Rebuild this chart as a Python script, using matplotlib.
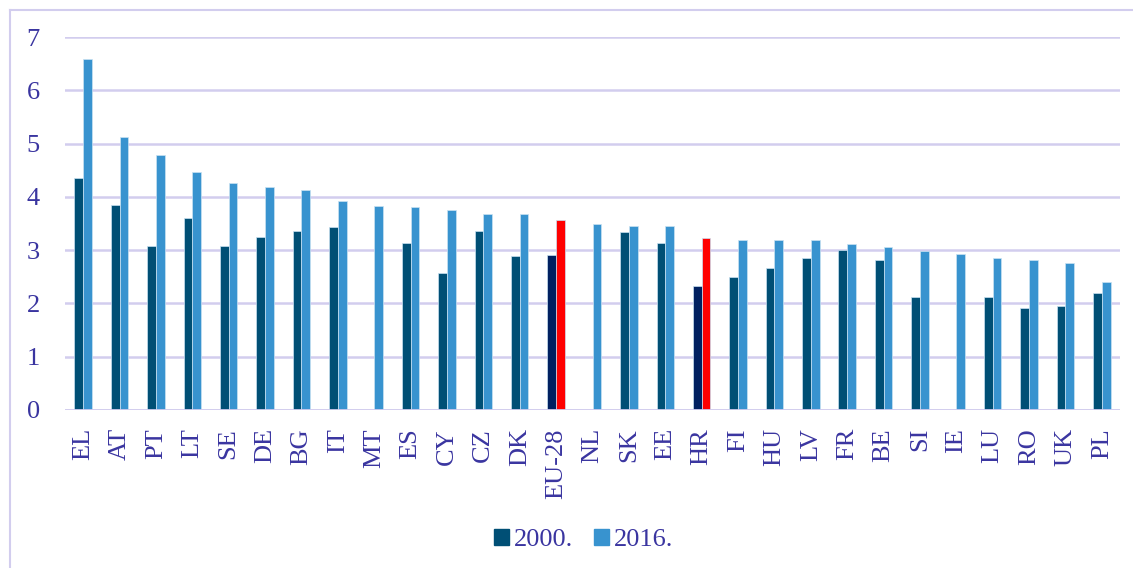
import numpy as np
import matplotlib.pyplot as plt
from matplotlib.lines import Line2D
from matplotlib.patches import Patch

countries = ['EL', 'AT', 'PT', 'LT', 'SE', 'DE', 'BG', 'IT', 'MT', 'ES', 'CY', 'CZ', 'DK',
             'EU-28', 'NL', 'SK', 'EE', 'HR', 'FI', 'HU', 'LV', 'FR', 'BE', 'SI', 'IE', 'LU',
             'RO', 'UK', 'PL']
y2000 = [4.36, 3.84, 3.07, 3.61, 3.07, 3.24, 3.36, 3.43, np.nan, 3.13, 2.58, 3.36, 2.89,
         2.90, np.nan, 3.34, 3.13, 2.33, 2.49, 2.67, 2.86, 3.00, 2.81, 2.13, np.nan, 2.13,
         1.91, 1.96, 2.20]
y2016 = [6.58, 5.12, 4.79, 4.46, 4.26, 4.18, 4.13, 3.93, 3.82, 3.81, 3.76, 3.68, 3.67,
         3.56, 3.49, 3.46, 3.45, 3.23, 3.19, 3.19, 3.19, 3.12, 3.05, 2.99, 2.93, 2.86,
         2.82, 2.76, 2.40]
highlight = ['EU-28', 'HR']

c2000 = '#004f75'
c2016 = '#3893cf'
c2000_hl = '#002060'
c2016_hl = '#ff0000'
text_c = '#3a35a0'
grid_c = '#d2cdee'

plt.rcParams['font.family'] = ['Liberation Serif', 'DejaVu Serif']

fig = plt.figure(figsize=(11.33, 5.68), dpi=100)
ax = fig.add_axes([65 / 1133, 1 - 410 / 568, 1055 / 1133, 373 / 568])

x = np.arange(len(countries))
w = 0.24
cols_a = [c2000_hl if c in highlight else c2000 for c in countries]
cols_b = [c2016_hl if c in highlight else c2016 for c in countries]
ax.bar(x - w / 2, np.nan_to_num(y2000), w, color=cols_a, edgecolor='#c9e2f2', linewidth=0.5, zorder=3)
ax.bar(x + w / 2, y2016, w, color=cols_b, edgecolor='#c9e2f2', linewidth=0.5, zorder=3)

ax.set_xlim(-0.5, len(countries) - 0.5)
ax.set_ylim(0, 7)
ax.set_yticks(range(8))
ax.yaxis.grid(True, color=grid_c, linewidth=1.8, zorder=0)
for s in ax.spines.values():
    s.set_visible(False)
ax.axhline(0, color=grid_c, linewidth=2, zorder=4)
ax.tick_params(length=0, colors=text_c, labelsize=19)
ax.tick_params(axis='y', pad=18)
ax.tick_params(axis='x', pad=13)
ax.set_xticks(x)
ax.set_xticklabels(countries, rotation=90, va='top')

handles = [Patch(color=c2000), Patch(color=c2016)]
fig.legend(handles, ['2000.', '2016.'], loc='center', bbox_to_anchor=(584 / 1133, 1 - 540 / 568),
           ncol=2, frameon=False, fontsize=19, labelcolor=text_c, handlelength=0.55,
           handleheight=0.55, handletextpad=0.2, columnspacing=0.8)

# outer frame (only top and left visible)
fig.add_artist(Line2D([10 / 1133, 1], [1 - 10 / 568, 1 - 10 / 568], color=grid_c, linewidth=1.5))
fig.add_artist(Line2D([10 / 1133, 10 / 1133], [0, 1 - 10 / 568], color=grid_c, linewidth=1.5))

fig.savefig('out.png', dpi=100)
